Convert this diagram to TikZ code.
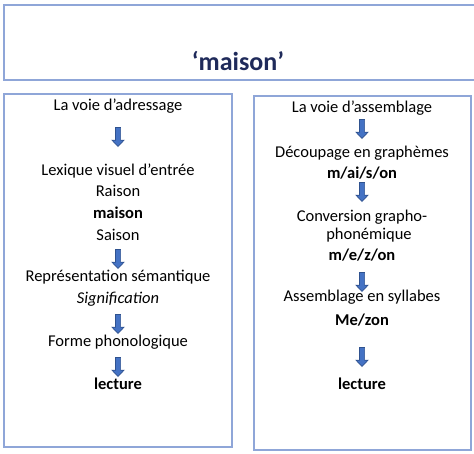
\documentclass[tikz,border=0pt]{standalone}
\usepackage{fontspec}
\setmainfont{Carlito}
\definecolor{frame}{HTML}{8FA6D8}
\definecolor{navy}{HTML}{1F2A5A}
\definecolor{arrfill}{HTML}{4472C4}
\definecolor{arrdraw}{HTML}{2F528F}
\tikzset{
  x=1pt, y=-1pt,
  panel/.style={draw=frame, line width=1.4pt},
  txt/.style={inner sep=0pt, font=\fontsize{16.5}{19}\selectfont, text=black},
  btxt/.style={txt, font=\fontsize{16.5}{19}\selectfont\bfseries},
  itxt/.style={txt, font=\fontsize{16.5}{19}\selectfont\itshape},
  blockdown/.pic={
    \draw[draw=arrdraw, fill=arrfill, line width=0.7pt, line join=miter]
      (-2.6,-9.5) -- (2.6,-9.5) -- (2.6,3.2) -- (6,3.2) -- (0,9.5)
      -- (-6,3.2) -- (-2.6,3.2) -- cycle;
  },
}
\begin{document}
\begin{tikzpicture}
\useasboundingbox (0,0) rectangle (474,454);
% top frame (open to the right edge)
\draw[panel] (476,5) -- (4,5) -- (4,80) -- (476,80);
\node[inner sep=0pt, font=\fontsize{26}{30}\selectfont\bfseries, text=navy] (title) at (238,61) {‘maison’};
% left panel
\draw[panel] (4,94) rectangle (232,447);
\node[txt] (l0) at (118,106) {La voie d’adressage};
\pic (la1) at (118,137) {blockdown};
\node[txt] (l1) at (118,171) {Lexique visuel d’entrée};
\node[txt] (l2) at (118,191) {Raison};
\node[btxt] (l3) at (118,213) {maison};
\node[txt] (l4) at (118,235) {Saison};
\pic (la2) at (118,259) {blockdown};
\node[txt] (l5) at (118,277) {Représentation sémantique};
\node[itxt] (l6) at (118,299) {Signification};
\pic (la3) at (118,324) {blockdown};
\node[txt] (l7) at (118,342) {Forme phonologique};
\pic (la4) at (118,367) {blockdown};
\node[btxt] (l8) at (118,384) {lecture};
% right panel
\draw[panel] (254,96) rectangle (471,450);
\node[txt] (r0) at (362,108) {La voie d’assemblage};
\pic (ra1) at (362,129) {blockdown};
\node[txt] (r1) at (362,153) {Découpage en graphèmes};
\node[btxt] (r2) at (362,173) {m/ai/s/on};
\pic (ra2) at (362,192) {blockdown};
\node[txt] (r3) at (362,217) {Conversion grapho-};
\node[txt] (r4) at (369,235) {phonémique};
\node[btxt] (r5) at (362,255) {m/e/z/on};
\pic (ra3) at (362,282) {blockdown};
\node[txt] (r6) at (362,297) {Assemblage en syllabes};
\node[btxt] (r7) at (362,320) {Me/zon};
\pic (ra4) at (362,357) {blockdown};
\node[btxt] (r8) at (362,384) {lecture};
\end{tikzpicture}
\end{document}
